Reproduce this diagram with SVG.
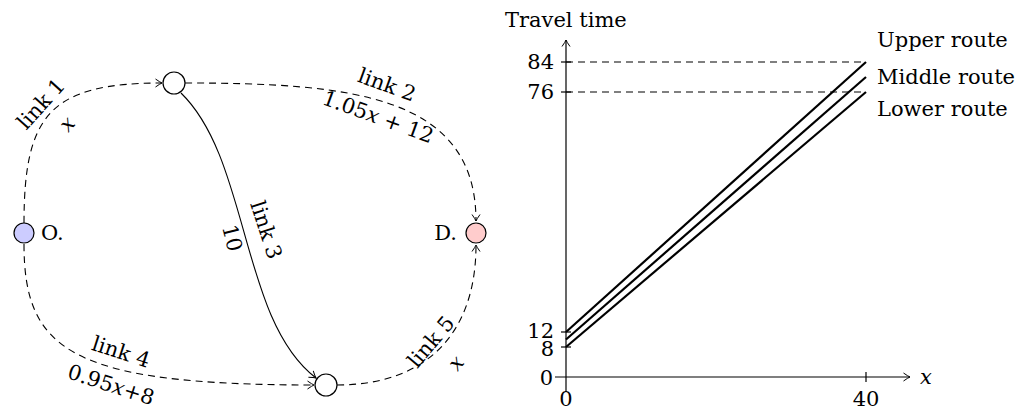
<svg xmlns="http://www.w3.org/2000/svg" width="1026" height="410" viewBox="0 0 1026 410">
<defs>
<marker id="arr" viewBox="-8 -5 10 10" refX="0" refY="0" markerWidth="10" markerHeight="10" markerUnits="userSpaceOnUse" orient="auto">
<path d="M-6.5,-4 Q-2,-0.8 0,0 Q-2,0.8 -6.5,4" fill="none" stroke="#000" stroke-width="1"/>
</marker>
</defs>
<style>
.t{font-family:"DejaVu Serif",serif;font-size:21px;fill:#000}
.i{font-style:italic}
.dash{fill:none;stroke:#000;stroke-width:1.1;stroke-dasharray:7,5}
.sol{fill:none;stroke:#000;stroke-width:1.1}
.node{fill:#fff;stroke:#000;stroke-width:1.2}
.ax{fill:none;stroke:#000;stroke-width:1.2}
.rt{fill:none;stroke:#000;stroke-width:2.2}
</style>
<g id="connectors">
<path class="dash" d="M24,223 C24,115 50,83 162,83" marker-end="url(#arr)"/>
<path class="dash" d="M185,83 C350,83 476,95 476,221" marker-end="url(#arr)"/>
<path class="sol" d="M181,93 C250,160 240,320 316,378" marker-end="url(#arr)"/>
<path class="dash" d="M24,244 C24,350 70,385 314,385" marker-end="url(#arr)"/>
<path class="dash" d="M337,385 C425,385 476,335 476,245" marker-end="url(#arr)"/>
</g>
<g id="link-labels">
<text class="t" transform="translate(41,104) rotate(-48)" text-anchor="middle" dominant-baseline="central">link 1</text>
<text class="t i" transform="translate(67,124) rotate(-48)" text-anchor="middle" dominant-baseline="central">x</text>
<text class="t" transform="translate(387,85) rotate(20)" text-anchor="middle" dominant-baseline="central">link 2</text>
<text class="t" transform="translate(378,117) rotate(20)" text-anchor="middle" dominant-baseline="central">1.05<tspan class="i">x</tspan> + 12</text>
<text class="t" transform="translate(266,230) rotate(72)" text-anchor="middle" dominant-baseline="central">link 3</text>
<text class="t" transform="translate(232,238) rotate(76)" text-anchor="middle" dominant-baseline="central">10</text>
<text class="t" transform="translate(121,352) rotate(18)" text-anchor="middle" dominant-baseline="central">link 4</text>
<text class="t" transform="translate(111,385) rotate(18)" text-anchor="middle" dominant-baseline="central">0.95<tspan class="i">x</tspan>+8</text>
<text class="t" transform="translate(431,342) rotate(-50)" text-anchor="middle" dominant-baseline="central">link 5</text>
<text class="t i" transform="translate(456,363) rotate(-50)" text-anchor="middle" dominant-baseline="central">x</text>
</g>
<g id="node-O">
<circle cx="24" cy="233" r="10" fill="#ccccff" stroke="#000" stroke-width="1.2"/>
<text class="t" x="41" y="233" dominant-baseline="central">O.</text>
</g>
<g id="node-D">
<circle cx="476" cy="233" r="10" fill="#ffcccc" stroke="#000" stroke-width="1.2"/>
<text class="t" x="457" y="233" text-anchor="end" dominant-baseline="central">D.</text>
</g>
<g id="node-top">
<circle class="node" cx="174" cy="83" r="11"/>
</g>
<g id="node-bottom">
<circle class="node" cx="326" cy="385" r="11"/>
</g>
<g id="chart">
<line class="ax" x1="566" y1="392" x2="566" y2="40" marker-end="url(#arr)"/>
<line class="ax" x1="555" y1="377" x2="910" y2="377" marker-end="url(#arr)"/>
<line class="ax" x1="866" y1="372" x2="866" y2="382"/>
<line class="ax" x1="561" y1="62" x2="571" y2="62"/>
<line class="ax" x1="561" y1="92" x2="571" y2="92"/>
<line class="ax" x1="561" y1="332" x2="571" y2="332"/>
<line class="ax" x1="561" y1="347" x2="571" y2="347"/>
<line class="dash" x1="566" y1="62" x2="866" y2="62"/>
<line class="dash" x1="566" y1="92" x2="866" y2="92"/>
<line class="rt" x1="566" y1="332" x2="866" y2="62"/>
<line class="rt" x1="566" y1="339.5" x2="866" y2="77"/>
<line class="rt" x1="566" y1="347" x2="866" y2="92"/>
<text class="t" x="505" y="20" dominant-baseline="central">Travel time</text>
<text class="t" x="554" y="62" text-anchor="end" dominant-baseline="central">84</text>
<text class="t" x="554" y="92" text-anchor="end" dominant-baseline="central">76</text>
<text class="t" x="554" y="331" text-anchor="end" dominant-baseline="central">12</text>
<text class="t" x="554" y="349" text-anchor="end" dominant-baseline="central">8</text>
<text class="t" x="553" y="378" text-anchor="end" dominant-baseline="central">0</text>
<text class="t" x="566" y="399" text-anchor="middle" dominant-baseline="central">0</text>
<text class="t" x="866" y="399" text-anchor="middle" dominant-baseline="central">40</text>
<text class="t i" x="920" y="377" dominant-baseline="central">x</text>
<text class="t" x="877" y="40" dominant-baseline="central">Upper route</text>
<text class="t" x="877" y="77" dominant-baseline="central">Middle route</text>
<text class="t" x="877" y="109" dominant-baseline="central">Lower route</text>
</g>
</svg>
